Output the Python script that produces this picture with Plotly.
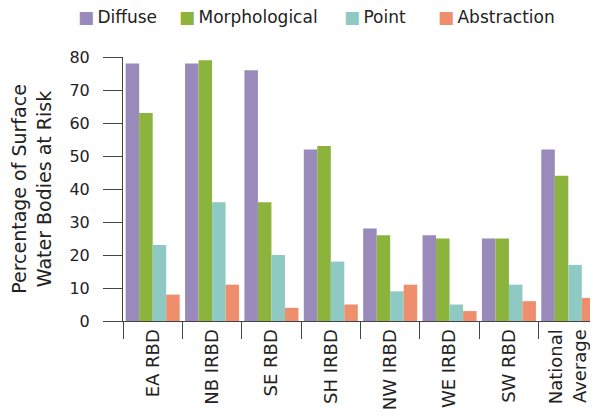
import plotly.graph_objects as go

categories = ["EA RBD", "NB IRBD", "SE RBD", "SH IRBD", "NW IRBD", "WE IRBD", "SW RBD", "National<br>Average"]
diffuse = [78, 78, 76, 52, 28, 26, 25, 52]
morphological = [63, 79, 36, 53, 26, 25, 25, 44]
point = [23, 36, 20, 18, 9, 5, 11, 17]
abstraction = [8, 11, 4, 5, 11, 3, 6, 7]
y_ticks = [0, 10, 20, 30, 40, 50, 60, 70, 80]

series_names = ["Diffuse", "Morphological", "Point", "Abstraction"]
series_values = [diffuse, morphological, point, abstraction]
series_colors = ["#9a8abb", "#8cb43c", "#8ecac3", "#ee8e6c"]
# legend item left edges (page px) -> paper coordinates below
legend_px = [76, 177, 342, 436]

font = "DejaVu Sans, Verdana, sans-serif"

fig = go.Figure()
for name, vals, col in zip(series_names, series_values, series_colors):
    fig.add_trace(go.Bar(name=name, x=categories, y=vals, marker_color=col,
                         marker_line_width=0, showlegend=False))

# body has an 8px default margin: compensate
L, T, B, R = 115, 49, 99, 0
W, H = 590, 412
plot_w = W - L - R
plot_h = H - T - B

annotations = []
for name, col, px in zip(series_names, series_colors, legend_px):
    annotations.append(dict(
        text=f'<span style="color:{col}">■</span>\u2009{name}',
        x=(px - 8 - L) / plot_w, y=(321 - 17) / plot_h,
        xref="paper", yref="paper", xanchor="left", yanchor="middle",
        showarrow=False, font=dict(size=17, color="#222222", family=font)))

fig.update_layout(
    width=W, height=H,
    margin=dict(l=L, r=R, t=T, b=B, autoexpand=False),
    barmode="group", bargap=0.09, bargroupgap=0,
    plot_bgcolor="white", paper_bgcolor="white",
    font=dict(family=font, size=16, color="#222222"),
    annotations=annotations,
    xaxis=dict(tickangle=-90, ticks="outside", tickson="boundaries", ticklen=17,
               tickcolor="#444", showline=True, linecolor="#444", linewidth=1,
               tickfont=dict(size=18), automargin=False),
    yaxis=dict(range=[0, 80], tickvals=y_ticks, ticks="outside", ticklen=19,
               tickcolor="#444", showline=True, linecolor="#444", linewidth=1,
               showgrid=False, zeroline=False, tickfont=dict(size=16),
               ticklabelstandoff=10, automargin=False,
               title=dict(text="Percentage of Surface<br>Water Bodies at Risk",
                          font=dict(size=19), standoff=16)),
)
fig.write_html("out.html")
